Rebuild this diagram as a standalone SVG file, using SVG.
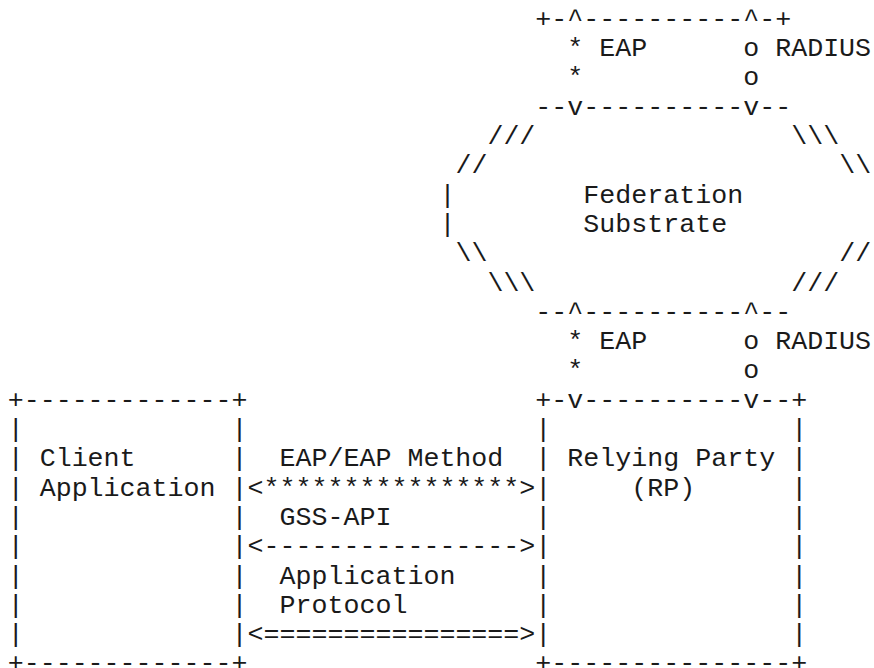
<svg xmlns="http://www.w3.org/2000/svg" width="874" height="668" viewBox="0 0 874 668">
  <style>
    /* monospace grid: 15.99px per column, 29.3px per row */
    text { font-family: "Liberation Mono", "Courier New", monospace; font-size: 26.65px; fill: #1a1a1a; white-space: pre; }
  </style>
  <rect width="874" height="668" fill="#fff"/>

  <!-- upper box edge -->
  <g id="upper-box">
    <text x="535.37" y="26.8" xml:space="preserve">+-^----------^-+</text>
  </g>

  <!-- federation substrate cloud -->
  <g id="federation-substrate">
    <text x="535.37" y="114.7" xml:space="preserve">--v----------v--</text>
    <text x="487.4" y="144">///</text>
    <text x="791.21" y="144">\\\</text>
    <text x="455.42" y="173.3">//</text>
    <text x="839.18" y="173.3">\\</text>
    <text x="439.43" y="202.6">|</text>
    <text x="583.34" y="202.6">Federation</text>
    <text x="439.43" y="231.9">|</text>
    <text x="583.34" y="231.9">Substrate</text>
    <text x="455.42" y="261.2">\\</text>
    <text x="839.18" y="261.2">//</text>
    <text x="487.4" y="290.5">\\\</text>
    <text x="791.21" y="290.5">///</text>
    <text x="535.37" y="319.8" xml:space="preserve">--^----------^--</text>
  </g>

  <!-- client application box -->
  <g id="client-application">
    <text x="7.7" y="407.7" xml:space="preserve">+-------------+</text>
    <text x="7.7" y="437" xml:space="preserve">|             |</text>
    <text x="7.7" y="466.3" xml:space="preserve">| Client      |</text>
    <text x="7.7" y="495.6" xml:space="preserve">| Application |</text>
    <text x="7.7" y="524.9" xml:space="preserve">|             |</text>
    <text x="7.7" y="554.2" xml:space="preserve">|             |</text>
    <text x="7.7" y="583.5" xml:space="preserve">|             |</text>
    <text x="7.7" y="612.8" xml:space="preserve">|             |</text>
    <text x="7.7" y="642.1" xml:space="preserve">|             |</text>
    <text x="7.7" y="671.4" xml:space="preserve">+-------------+</text>
  </g>

  <!-- relying party box -->
  <g id="relying-party">
    <text x="535.37" y="407.7" xml:space="preserve">+-v----------v--+</text>
    <text x="535.37" y="437" xml:space="preserve">|               |</text>
    <text x="535.37" y="466.3" xml:space="preserve">| Relying Party |</text>
    <text x="535.37" y="495.6" xml:space="preserve">|     (RP)      |</text>
    <text x="535.37" y="524.9" xml:space="preserve">|               |</text>
    <text x="535.37" y="554.2" xml:space="preserve">|               |</text>
    <text x="535.37" y="583.5" xml:space="preserve">|               |</text>
    <text x="535.37" y="612.8" xml:space="preserve">|               |</text>
    <text x="535.37" y="642.1" xml:space="preserve">|               |</text>
    <text x="535.37" y="671.4" xml:space="preserve">+---------------+</text>
  </g>

  <!-- links: EAP / RADIUS uplinks and client-RP exchanges -->
  <g id="connectors">
    <text x="567.35" y="56.1" xml:space="preserve">* EAP      o RADIUS</text>
    <text x="567.35" y="85.4" xml:space="preserve">*          o</text>
    <text x="567.35" y="349.1" xml:space="preserve">* EAP      o RADIUS</text>
    <text x="567.35" y="378.4" xml:space="preserve">*          o</text>

    <text x="279.53" y="466.3">EAP/EAP Method</text>
    <text x="247.55" y="495.6">&lt;****************&gt;</text>
    <text x="279.53" y="524.9">GSS-API</text>
    <text x="247.55" y="554.2">&lt;----------------&gt;</text>
    <text x="279.53" y="583.5">Application</text>
    <text x="279.53" y="612.8">Protocol</text>
    <text x="247.55" y="642.1">&lt;================&gt;</text>
  </g>
</svg>
